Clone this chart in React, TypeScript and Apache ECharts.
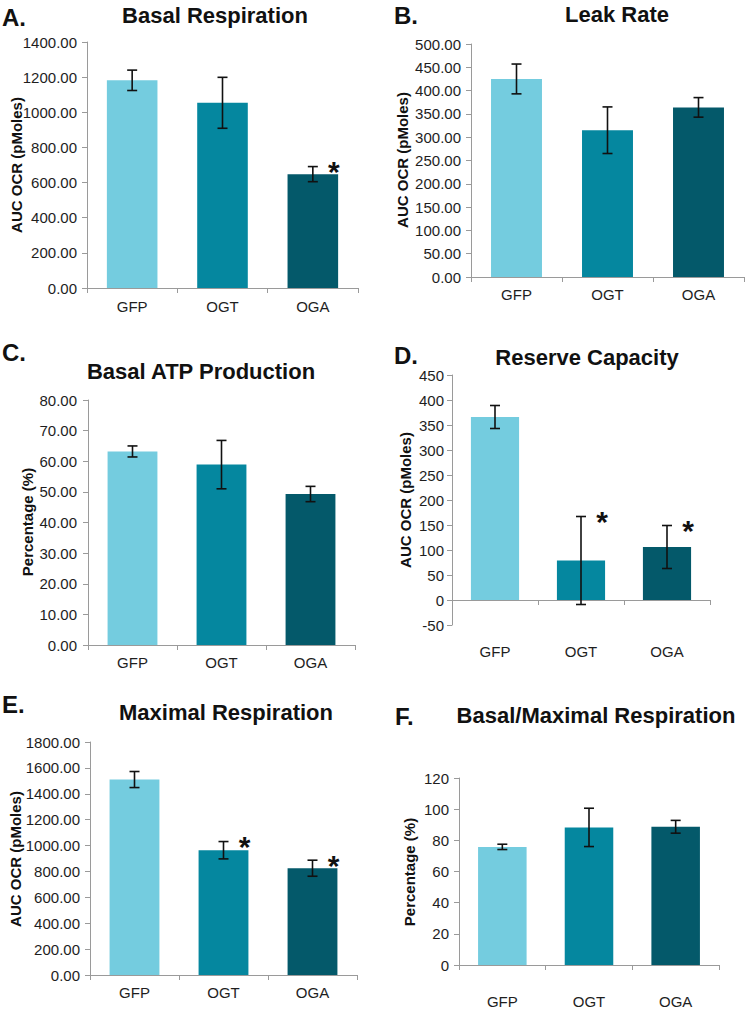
import React, { useEffect, useRef } from "react";
import * as echarts from "echarts";

// ---------- data ----------
const categories = ["GFP", "OGT", "OGA"];
const barColors = ["#74CCDF", "#05879F", "#04596A"];

const basalValues = [1182, 1054, 648];
const basalErrors = [58, 145, 43];
const basalSig = [0, 0, 1];

const leakValues = [425, 315, 364];
const leakErrors = [32, 50, 21];
const leakSig = [0, 0, 0];

const atpValues = [63.2, 58.9, 49.3];
const atpErrors = [1.8, 7.9, 2.5];
const atpSig = [0, 0, 0];

const reserveValues = [366, 79, 106];
const reserveErrors = [23, 88, 43];
const reserveSig = [0, 1, 1];

const maximalValues = [1510, 964, 825];
const maximalErrors = [62, 67, 62];
const maximalSig = [0, 1, 1];

const ratioValues = [75.8, 88.3, 88.7];
const ratioErrors = [1.7, 12.3, 4.1];
const ratioSig = [0, 0, 0];

const panelLetters = ["A.", "B.", "C.", "D.", "E.", "F."];
const panelTitles = [
  "Basal Respiration",
  "Leak Rate",
  "Basal ATP Production",
  "Reserve Capacity",
  "Maximal Respiration",
  "Basal/Maximal Respiration",
];
const yNames = [
  "AUC OCR (pMoles)",
  "AUC OCR (pMoles)",
  "Percentage (%)",
  "AUC OCR (pMoles)",
  "AUC OCR (pMoles)",
  "Percentage (%)",
];
// y-axis ranges: [min, max, interval, decimals]
const yRanges = [
  [0, 1400, 200, 2],
  [0, 500, 50, 2],
  [0, 80, 10, 2],
  [-50, 450, 50, 0],
  [0, 1800, 200, 2],
  [0, 120, 20, 0],
];

const panelData = [
  { values: basalValues, errors: basalErrors, sig: basalSig },
  { values: leakValues, errors: leakErrors, sig: leakSig },
  { values: atpValues, errors: atpErrors, sig: atpSig },
  { values: reserveValues, errors: reserveErrors, sig: reserveSig },
  { values: maximalValues, errors: maximalErrors, sig: maximalSig },
  { values: ratioValues, errors: ratioErrors, sig: ratioSig },
];

// ---------- layout ----------
const grids = [
  { left: 87, top: 42, width: 271, height: 246 },
  { left: 471, top: 44, width: 273, height: 233 },
  { left: 88, top: 400, width: 267, height: 245 },
  { left: 452, top: 375, width: 258, height: 250 },
  { left: 90, top: 742, width: 267, height: 233 },
  { left: 459, top: 778, width: 260, height: 187 },
];
const xLabelMargins = [11, 10, 10, 19, 10, 29];
const yLabelMargins = [10, 10, 11, 8, 10, 10];
const letterPos = [
  [2, 17], [394, 15], [2, 352], [394, 355], [2, 704], [395, 716],
];
const titlePos = [
  [215, 15], [617, 14], [201, 371], [587, 357], [226, 712], [596, 715],
];
const yNamePos = [
  [16, 165], [402, 160], [27, 522], [405, 500], [15, 859], [409, 872],
];

const FONT = "'Liberation Sans', Arial, Helvetica, sans-serif";
const AXIS_COLOR = "#9a9a9a";
const TEXT_COLOR = "#1e1e1e";

function buildOption() {
  const xAxis: any[] = [];
  const yAxis: any[] = [];
  const series: any[] = [];
  const graphic: any[] = [];

  grids.forEach((g, i) => {
    const [min, max, interval, dec] = yRanges[i];
    // line + ticks axis (at zero)
    xAxis.push({
      type: "category",
      gridIndex: i,
      data: categories,
      axisLine: { show: true, onZero: true, lineStyle: { color: AXIS_COLOR, width: 1 } },
      axisTick: { show: true, length: 5, lineStyle: { color: AXIS_COLOR } },
      axisLabel: { show: false },
      splitLine: { show: false },
    });
    // label axis (at bottom of grid)
    xAxis.push({
      type: "category",
      gridIndex: i,
      position: "bottom",
      data: categories,
      axisLine: { show: false, onZero: false },
      axisTick: { show: false },
      axisLabel: {
        show: true,
        margin: xLabelMargins[i],
        fontSize: 15,
        color: TEXT_COLOR,
        fontFamily: FONT,
      },
      splitLine: { show: false },
    });
    yAxis.push({
      type: "value",
      gridIndex: i,
      min,
      max,
      interval,
      axisLine: { show: true, onZero: false, lineStyle: { color: AXIS_COLOR, width: 1 } },
      axisTick: { show: true, length: 5, lineStyle: { color: AXIS_COLOR } },
      axisLabel: {
        margin: yLabelMargins[i],
        fontSize: 15,
        color: TEXT_COLOR,
        fontFamily: FONT,
        formatter: (v: number) => v.toFixed(dec),
      },
      splitLine: { show: false },
    });

    const d = panelData[i];
    series.push({
      type: "bar",
      xAxisIndex: i * 2,
      yAxisIndex: i,
      barWidth: "56%",
      data: d.values.map((v, k) => ({ value: v, itemStyle: { color: barColors[k] } })),
    });
    series.push({
      type: "custom",
      xAxisIndex: i * 2,
      yAxisIndex: i,
      z: 5,
      encode: { x: 0, y: 1 },
      data: d.values.map((v, k) => [k, v, d.errors[k], d.sig[k]]),
      renderItem: (params: any, api: any) => {
        const idx = api.value(0);
        const v = api.value(1);
        const e = api.value(2);
        const s = api.value(3);
        const top = api.coord([idx, v + e]);
        const bot = api.coord([idx, v - e]);
        const cx = top[0];
        const hw = 5;
        const style = { stroke: "#111", lineWidth: 1.6 };
        const children: any[] = [
          { type: "line", shape: { x1: cx, y1: top[1], x2: cx, y2: bot[1] }, style },
          { type: "line", shape: { x1: cx - hw, y1: top[1], x2: cx + hw, y2: top[1] }, style },
          { type: "line", shape: { x1: cx - hw, y1: bot[1], x2: cx + hw, y2: bot[1] }, style },
        ];
        if (s) {
          children.push({
            type: "text",
            x: cx + 21,
            y: top[1] + 5,
            style: {
              text: "*",
              fontSize: 30,
              fontWeight: "bold",
              fontFamily: FONT,
              fill: "#111",
              align: "center",
              verticalAlign: "middle",
            },
          });
        }
        return { type: "group", children };
      },
    });

    graphic.push({
      type: "text",
      x: letterPos[i][0],
      y: letterPos[i][1],
      style: {
        text: panelLetters[i],
        fontSize: 24,
        fontWeight: "bold",
        fontFamily: FONT,
        fill: "#111",
        align: "left",
        verticalAlign: "middle",
      },
    });
    graphic.push({
      type: "text",
      x: titlePos[i][0],
      y: titlePos[i][1],
      style: {
        text: panelTitles[i],
        fontSize: 22,
        fontWeight: "bold",
        fontFamily: FONT,
        fill: "#111",
        align: "center",
        verticalAlign: "middle",
      },
    });
    graphic.push({
      type: "text",
      x: yNamePos[i][0],
      y: yNamePos[i][1],
      rotation: Math.PI / 2,
      style: {
        text: yNames[i],
        fontSize: 15,
        fontWeight: "bold",
        fontFamily: FONT,
        fill: "#111",
        align: "center",
        verticalAlign: "middle",
      },
    });
  });

  return {
    animation: false,
    backgroundColor: "#ffffff",
    textStyle: { fontFamily: FONT },
    grid: grids.map((g) => ({ ...g, containLabel: false })),
    xAxis,
    yAxis,
    series,
    graphic,
  };
}

export default function App() {
  const ref = useRef<HTMLDivElement>(null);
  useEffect(() => {
    if (!ref.current) return;
    const chart = echarts.init(ref.current, undefined, { renderer: "svg" });
    chart.setOption(buildOption() as any);
    return () => chart.dispose();
  }, []);
  return (
    <div
      ref={ref}
      style={{ position: "absolute", left: 0, top: 0, width: 745, height: 1009, background: "#fff" }}
    />
  );
}
